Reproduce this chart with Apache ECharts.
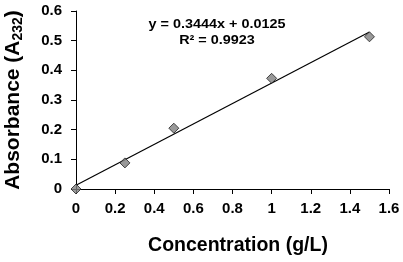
<!DOCTYPE html>
<html><head><meta charset="utf-8">
<script src="https://cdn.jsdelivr.net/npm/echarts@6/dist/echarts.min.js"></script>
<style>html,body{margin:0;padding:0;background:#fff}#c{width:403px;height:262px}</style>
</head><body><div id="c"></div>
<script>
const concentration = [0, 0.25, 0.5, 1.0, 1.5];
const absorbance = [0, 0.088, 0.205, 0.373, 0.513];
const slope = 0.3444, intercept = 0.0125;
const trendX = [0, 1.5];
const eqLabel = 'y = 0.3444x + 0.0125';
const r2Label = 'R² = 0.9923';

const chart = echarts.init(document.getElementById('c'));
const ff = 'Liberation Sans, Arial, sans-serif';
chart.setOption({
  animation: false,
  grid: {left: 76, right: 14, top: 11, bottom: 73, containLabel: false, outerBoundsMode: 'none'},
  xAxis: {
    type: 'value', min: 0, max: 1.6, interval: 0.2,
    axisLine: {lineStyle: {color: '#000', width: 1}},
    axisTick: {length: 5, lineStyle: {color: '#000'}},
    splitLine: {show: false},
    axisLabel: {color: '#000', fontWeight: 'bold', fontSize: 15, fontFamily: ff, margin: 12,
      formatter: v => String(+v.toFixed(1))},
    name: 'Concentration (g/L)', nameLocation: 'middle', nameGap: 47,
    nameTextStyle: {color: '#000', fontWeight: 'bold', fontSize: 19.5, fontFamily: ff, padding: [0, 0, 0, 11]}
  },
  yAxis: {
    type: 'value', min: 0, max: 0.6, interval: 0.1,
    axisLine: {show: true, lineStyle: {color: '#000', width: 1}},
    axisTick: {show: true, length: 5, lineStyle: {color: '#000'}},
    splitLine: {show: false},
    axisLabel: {color: '#000', fontWeight: 'bold', fontSize: 15, fontFamily: ff, margin: 14,
      formatter: v => String(+v.toFixed(1))},
    name: '{a|Absorbance (A}{s|232}{a|)}', nameLocation: 'middle', nameGap: 51, nameRotate: 90,
    nameTextStyle: {rich: {
      a: {color: '#000', fontWeight: 'bold', fontSize: 21, fontFamily: ff},
      s: {color: '#000', fontWeight: 'bold', fontSize: 14, fontFamily: ff, verticalAlign: 'bottom', padding: [9,0,0,0]}
    }}
  },
  series: [
    {type: 'line', data: trendX.map(x => [x, slope * x + intercept]), symbol: 'none',
      lineStyle: {color: '#000', width: 1.2}, z: 2},
    {type: 'scatter', data: concentration.map((x, i) => [x, absorbance[i]]), symbol: 'diamond', symbolSize: 10,
      itemStyle: {color: '#7f7f7f', borderColor: '#222', borderWidth: 1}, z: 3}
  ],
  graphic: [
    {type: 'text', x: 217, y: 25, scaleX: 1.2, style: {text: eqLabel, font: 'bold 12px ' + ff, fill: '#000', textAlign: 'center', textVerticalAlign: 'middle'}},
    {type: 'text', x: 217, y: 41, scaleX: 1.2, style: {text: r2Label, font: 'bold 12px ' + ff, fill: '#000', textAlign: 'center', textVerticalAlign: 'middle'}}
  ]
});
</script></body></html>
